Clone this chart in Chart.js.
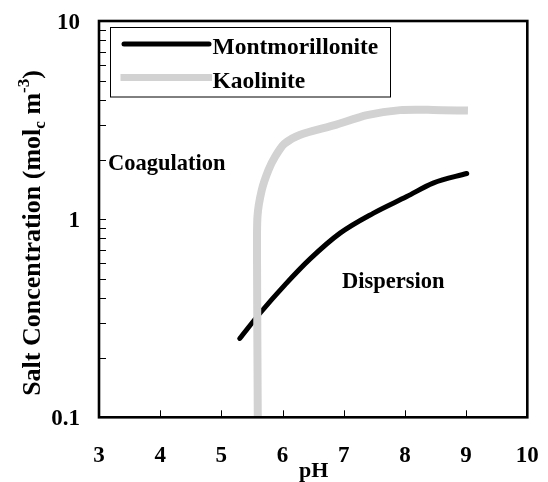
<!DOCTYPE html>
<html>
<head>
<meta charset="utf-8">
<script src="https://cdn.jsdelivr.net/npm/chart.js@4"></script>
<style>
  html, body { margin: 0; padding: 0; background: #ffffff; }
  #wrap { width: 548px; height: 482px; }
</style>
</head>
<body>
<div id="wrap"><canvas id="c" width="548" height="482"></canvas></div>
<script>
// ---- data ----
const montLabel = 'Montmorillonite';
const montPH   = [5.30, 5.63, 6.05, 6.45, 6.94, 7.48, 8.03, 8.46, 9.01];
const montConc = [0.250, 0.335, 0.47, 0.63, 0.85, 1.07, 1.30, 1.52, 1.70];

const kaoLabel = 'Kaolinite';
const kaoPH   = [5.595, 5.583, 5.59, 5.66, 5.77, 5.88, 6.03, 6.28, 6.85, 7.38, 7.92, 8.46, 9.03];
const kaoConc = [0.10, 0.60, 1.03, 1.40, 1.77, 2.07, 2.40, 2.66, 2.98, 3.35, 3.55, 3.56, 3.53];

const xTickValues = [3, 4, 5, 6, 7, 8, 9, 10];
const xTickLabels = ['3', '4', '5', '6', '7', '8', '9', '10'];
const yTickValues = [0.1, 1, 10];
const yTickLabels = ['0.1', '1', '10'];
const xTitle = 'pH';
const regionLabels = ['Coagulation', 'Dispersion'];

const SERIF = '"Liberation Serif", "Times New Roman", Times, serif';

function pts(xs, ys) { return xs.map((x, i) => ({ x: x, y: ys[i] })); }

const decorPlugin = {
  id: 'decor',
  afterDatasetsDraw(chart) {
    const ctx = chart.ctx;
    const a = chart.chartArea;
    const xs = chart.scales.x, ys = chart.scales.y;
    ctx.save();
    ctx.fillStyle = '#000';
    ctx.strokeStyle = '#000';

    // ticks (inward)
    ctx.lineWidth = 1;
    ctx.beginPath();
    xTickValues.forEach(v => {
      if (v <= xs.min || v >= xs.max) return;
      const px = Math.round(xs.getPixelForValue(v)) + 0.5;
      ctx.moveTo(px, a.bottom);
      ctx.lineTo(px, a.bottom - 7);
    });
    for (let d = 0.1; d < 10; d *= 10) {
      for (let m = 1; m <= 9; m++) {
        const v = d * m;
        if (v <= ys.min * 1.0001 || v >= ys.max * 0.9999) continue;
        const py = Math.round(ys.getPixelForValue(v)) + 0.5;
        ctx.moveTo(a.left, py);
        ctx.lineTo(a.left + 7, py);
      }
    }
    ctx.stroke();

    // frame
    ctx.lineWidth = 2.6;
    ctx.strokeRect(a.left, a.top, a.right - a.left, a.bottom - a.top);

    // tick labels
    ctx.font = 'bold 23px ' + SERIF;
    ctx.textBaseline = 'alphabetic';
    ctx.textAlign = 'center';
    xTickValues.forEach((v, i) => {
      ctx.fillText(xTickLabels[i], xs.getPixelForValue(v), 461.5);
    });
    ctx.textAlign = 'right';
    yTickValues.forEach((v, i) => {
      ctx.fillText(yTickLabels[i], 80, ys.getPixelForValue(v) + 7.8);
    });

    // x title
    ctx.font = 'bold 22px ' + SERIF;
    ctx.textAlign = 'center';
    ctx.fillText(xTitle, 313.7, 477);

    // y title with subscript / superscript
    ctx.save();
    ctx.translate(39.5, 233);
    ctx.rotate(-Math.PI / 2);
    const segs = [
      { t: 'Salt Concentration (mol', s: 26, dy: 0 },
      { t: 'c', s: 17, dy: 5 },
      { t: ' m', s: 26, dy: 0 },
      { t: '-3', s: 17, dy: -11 },
      { t: ')', s: 26, dy: 0 }
    ];
    let total = 0;
    segs.forEach(g => { ctx.font = 'bold ' + g.s + 'px ' + SERIF; g.w = ctx.measureText(g.t).width; total += g.w; });
    let cx = -total / 2;
    ctx.textAlign = 'left';
    segs.forEach(g => { ctx.font = 'bold ' + g.s + 'px ' + SERIF; ctx.fillText(g.t, cx, g.dy); cx += g.w; });
    ctx.restore();

    // region labels
    ctx.font = 'bold 22.5px ' + SERIF;
    ctx.textAlign = 'left';
    ctx.fillText(regionLabels[0], 108, 170);
    ctx.fillText(regionLabels[1], 342, 287.5);

    // legend box
    ctx.lineWidth = 1;
    ctx.strokeRect(110.5, 27.5, 280, 69.5);
    const ds = chart.data.datasets;
    // series 0
    ctx.lineCap = 'round';
    ctx.lineWidth = ds[0].borderWidth;
    ctx.strokeStyle = ds[0].borderColor;
    ctx.beginPath(); ctx.moveTo(124, 44); ctx.lineTo(209, 44); ctx.stroke();
    // series 1
    ctx.lineCap = 'butt';
    ctx.lineWidth = 7;
    ctx.strokeStyle = ds[1].borderColor;
    ctx.beginPath(); ctx.moveTo(120.5, 77.5); ctx.lineTo(212, 77.5); ctx.stroke();
    ctx.fillStyle = '#000';
    ctx.font = 'bold 23.5px ' + SERIF;
    ctx.fillText(ds[0].label, 212.5, 53.5);
    ctx.fillText(ds[1].label, 212.5, 87.5);

    ctx.restore();
  }
};

new Chart(document.getElementById('c'), {
  type: 'line',
  data: {
    datasets: [
      {
        label: montLabel,
        data: pts(montPH, montConc),
        borderColor: '#000000',
        borderWidth: 5,
        borderCapStyle: 'round',
        borderJoinStyle: 'round',
        cubicInterpolationMode: 'monotone',
        pointRadius: 0,
        fill: false,
        order: 1
      },
      {
        label: kaoLabel,
        data: pts(kaoPH, kaoConc),
        borderColor: '#d2d2d2',
        borderWidth: 8,
        borderCapStyle: 'butt',
        borderJoinStyle: 'round',
        tension: 0.25,
        pointRadius: 0,
        fill: false,
        order: 0
      }
    ]
  },
  options: {
    responsive: false,
    animation: false,
    devicePixelRatio: 1,
    layout: { padding: { left: 99, top: 21, right: 20.7, bottom: 64.7 } },
    plugins: { legend: { display: false }, tooltip: { enabled: false } },
    scales: {
      x: { type: 'linear', min: 3, max: 10, display: false },
      y: { type: 'logarithmic', min: 0.1, max: 10, display: false }
    }
  },
  plugins: [decorPlugin]
});
</script>
</body>
</html>
